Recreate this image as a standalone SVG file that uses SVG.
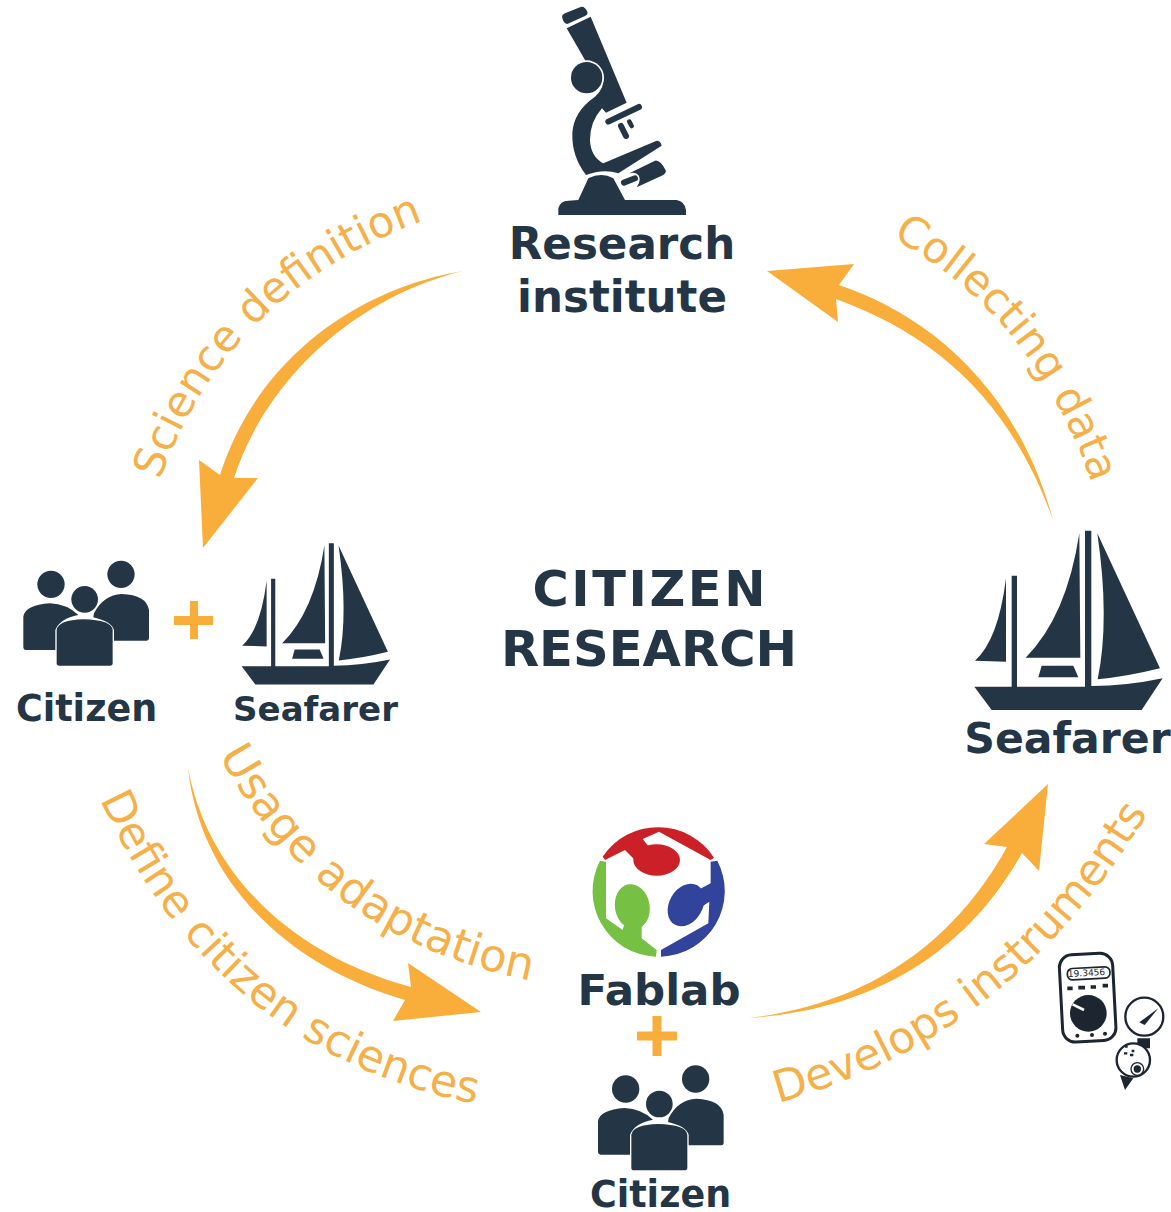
<svg xmlns="http://www.w3.org/2000/svg" width="1171" height="1212" viewBox="0 0 1171 1212">
<style>
.d{fill:#243646}
.b{font-family:"DejaVu Sans",Verdana,sans-serif;font-weight:700;fill:#243646;text-anchor:middle}
.c{font-family:"DejaVu Sans",Verdana,sans-serif;fill:#f6b04a;font-size:44px}
.a{fill:#f9ae3b}
.i{fill:#fff;stroke:#1c2530;stroke-width:7}
</style>
<defs>
<g id="boat" class="d">
<path d="M43 500H155V167H171V500H375V32H394V498Q500 498 608 475L545 570H95Z"/>
<path d="M138 175V425L45 422Q115 360 138 175Z"/>
<path d="M358 40L361 413H197Q320 290 358 40Z"/>
<path d="M412 40L600 445Q500 470 413 478Q450 300 412 40Z"/>
<path d="M245 437H340L355 472H235Z"/>
</g>
<g id="people" class="d">
<circle cx="153" cy="163" r="41"/><circle cx="363" cy="133" r="41"/><circle cx="254" cy="208" r="40"/>
<path d="M70 260Q75 225 150 220Q200 222 235 255Q180 265 166 300V360H78Q70 360 70 350Z"/>
<path d="M282 250Q310 195 365 192Q440 195 447 240V325Q447 332 440 332H342V300Q335 275 280 262Z"/>
<path d="M170 300Q175 270 250 268Q335 270 338 300V400Q338 407 330 407H178Q170 407 170 400Z"/>
</g>
<path id="p1" d="M160 480Q225 295 420 222L480 200"/>
<path id="p2" d="M892 238Q1030 312 1090 478L1110 540"/>
<path id="p3" d="M100 799Q215 1050 472 1103L520 1113"/>
<path id="p4" d="M219 755Q320 940 533 981L580 990"/>
<path id="p5" d="M778 1103Q1010 1040 1146 816L1180 765"/>
</defs>
<g id="connectors" class="a">
<path d="M463 271C375 285 262 345 220 475L199 460L203 548L258 478L234 478C262 390 345 300 463 271Z"/>
<path d="M1053 520C1015 380 920 312 839 285L854 264L767 271L838 322L836 299C935 335 1010 400 1053 520Z"/>
<path d="M188 768C208 875 293 955 411 987L408 963L481 1012L393 1021L405 1000C285 965 200 880 188 768Z"/>
<path d="M749 1018C860 1005 950 950 1007 847L984 844L1048 784L1039 871L1022 853C965 955 870 1010 749 1018Z"/>
</g>
<g id="research-institute">
<g transform="translate(540,0) scale(.3333)" class="d">
<path d="M67 55Q64 45 75 40L122 21Q135 18 143 38Q143 45 135 48L82 72Q72 72 67 55Z"/>
<path d="M80 85L152 50L260 308L198 338L186 325Q150 365 150 420Q152 470 190 490L350 422Q362 422 365 437L235 520Q190 505 138 525Q95 470 97 400Q100 335 165 290Q195 265 190 225Q180 195 138 185Z"/>
<circle cx="140" cy="233" r="52" fill="#fff"/><circle cx="140" cy="233" r="47"/>
<path d="M55 645V625Q60 603 85 602L115 600L145 535Q185 515 220 535L255 600H410Q435 605 438 630V645Z"/>
<path d="M205 365L297 321M243 378L258 408" stroke="#243646" stroke-width="18" stroke-linecap="round"/>
<path d="M268 365L275 378" stroke="#243646" stroke-width="14" stroke-linecap="round"/>
<path d="M268 520L345 482Q360 478 378 512Q378 520 370 525L290 562Q305 540 295 525Q285 515 268 520Z"/>
<path d="M252 548L285 535" stroke="#243646" stroke-width="18" stroke-linecap="round"/>
</g>
<text class="b" x="622" y="259" font-size="43.600">Research</text>
<text class="b" x="622" y="312" font-size="43.600">institute</text>
</g>
<g id="title">
<text class="b" x="649" y="606" font-size="49.400" textLength="233">CITIZEN</text>
<text class="b" x="649" y="666" font-size="49.600">RESEARCH</text>
</g>
<g id="citizen-left">
<use href="#people" transform="translate(0,530) scale(.3333)"/>
<text class="b" x="86.500" y="721" font-size="36.500">Citizen</text>
</g>
<g id="plus-left" class="a"><path d="M190 601H198V616H213V625H198V639H190V625H174V616H190Z"/></g>
<g id="seafarer-left">
<use href="#boat" transform="translate(230.400,534.900) scale(.2625)"/>
<text class="b" x="315.500" y="721" font-size="34">Seafarer</text>
</g>
<g id="seafarer-right">
<use href="#boat" transform="translate(960,520) scale(.3333)"/>
<text class="b" x="1067.500" y="753" font-size="42.600">Seafarer</text>
</g>
<g id="fablab">
<g transform="translate(580,815) scale(.3333)">
<g fill="#cb2027"><path d="M68 125A200 200 0 0 1 402 128L392 135L237 50L188 72L210 100L170 140L135 105L75 135Z"/><ellipse cx="230" cy="135" rx="70" ry="47"/></g>
<g fill="#76c043"><path d="M60 137L78 140V310L128 345L135 320H185V370L230 405L228 425A197 197 0 0 1 60 137Z"/><ellipse cx="157" cy="275" rx="52" ry="68" transform="rotate(-10 157 275)"/></g>
<g fill="#31439b"><path d="M243 425V405L385 325L388 260L350 285L320 240L360 222L392 205V140L412 137A197 197 0 0 1 243 425Z"/><ellipse cx="318" cy="270" rx="50" ry="68" transform="rotate(30 318 270)"/></g>
</g>
<text class="b" x="659" y="1005" font-size="43.500">Fablab</text>
</g>
<g id="plus-bottom" class="a"><path d="M652.500 1016H661.500V1031.500H677V1040.500H661.500V1056H652.500V1040.500H637V1031.500H652.500Z"/></g>
<g id="citizen-bottom">
<use href="#people" transform="translate(574.670,1034.670) scale(.3333)"/>
<text class="b" x="660.500" y="1207" font-size="36.500">Citizen</text>
</g>
<g id="instruments">
<g transform="translate(1050,945) scale(.3333)">
<rect x="33" y="27" width="160" height="262" rx="38" transform="rotate(-3 113 158)" fill="#fff" stroke="#1c2530" stroke-width="9"/>
<rect x="52" y="68" width="128" height="34" rx="15" transform="rotate(-3 116 85)" fill="#fff" stroke="#1c2530" stroke-width="5"/>
<path d="M52 130H68M85 128H105M122 126H138M158 122H174" stroke="#1c2530" stroke-width="11"/>
<circle cx="115" cy="205" r="55" fill="#1c2530"/>
<path d="M68 178L102 195" stroke="#fff" stroke-width="8"/>
<circle cx="82" cy="272" r="6" fill="#1c2530"/><circle cx="126" cy="270" r="6" fill="#1c2530"/><circle cx="165" cy="266" r="6" fill="#1c2530"/>
<path d="M262 280H300V310H262ZM210 390L250 400L225 435Z" fill="#1c2530"/>
<circle class="i" cx="283" cy="215" r="57"/>
<path d="M268 232L325 190L284 240Z" fill="#1c2530"/>
<circle class="i" cx="250" cy="345" r="50"/>
<circle cx="262" cy="372" r="19" fill="#fff" stroke="#1c2530" stroke-width="4"/><circle cx="262" cy="372" r="11" fill="#1c2530"/>
<path d="M222 325h10M240 330h10M225 305h8M245 318h8" stroke="#1c2530" stroke-width="7"/>
</g>
<text x="1086.500" y="976" font-family="'DejaVu Sans',sans-serif" font-size="9" text-anchor="middle" fill="#1c2530" transform="rotate(-3 1086 972)">19.3456</text>
</g>
<g id="labels" class="c">
<text font-size="43" style="font-size:43px"><textPath href="#p1">Science definition</textPath></text>
<text style="font-size:43px"><textPath href="#p2">Collecting data</textPath></text>
<text><textPath href="#p3">Define citizen sciences</textPath></text>
<text style="font-size:45px"><textPath href="#p4">Usage adaptation</textPath></text>
<text><textPath href="#p5">Develops instruments</textPath></text>
</g>
</svg>
